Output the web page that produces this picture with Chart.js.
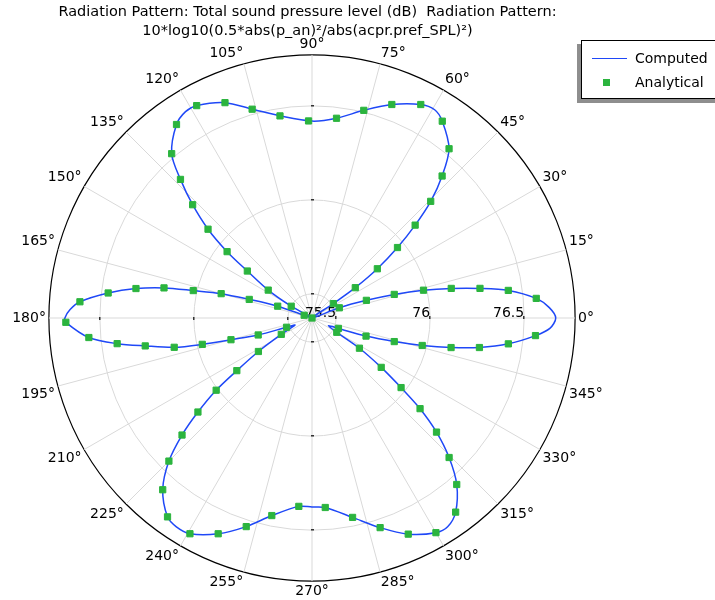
<!DOCTYPE html>
<html>
<head>
<meta charset="utf-8">
<script src="https://cdn.jsdelivr.net/npm/chart.js@4.4.1/dist/chart.umd.min.js"></script>
<style>
  html, body { margin: 0; padding: 0; background: #fff; }
  #wrap { position: relative; width: 715px; height: 600px; overflow: hidden; }
  #legend { position: absolute; left: 581px; top: 40px; width: 150px; height: 57px;
    background: #fff; border: 1px solid #000; box-shadow: -4px 4px 0 #8e8e8e;
    font: 14px "DejaVu Sans", sans-serif; color: #000; }
  #legend .row { position: absolute; left: 0; height: 20px; line-height: 20px; }
  #legend .txt { position: absolute; left: 53px; white-space: nowrap; }
</style>
</head>
<body>
<div id="wrap">
  <canvas id="chart" width="715" height="600"></canvas>
  <div id="legend"></div>
</div>
<script>
// radial axis (dB) and angle ticks (degrees)
const rMin = 75.372;
const rMax = 76.771;
const radialTicks = [75.5, 76, 76.5];
const angleTicks = [0, 15, 30, 45, 60, 75, 90, 105, 120, 135, 150, 165,
  180, 195, 210, 225, 240, 255, 270, 285, 300, 315, 330, 345];

const titleLines = [
  'Radiation Pattern: Total sound pressure level (dB)  Radiation Pattern:',
  '10*log10(0.5*abs(p_an)\u00b2/abs(acpr.pref_SPL)\u00b2)'
];

// Computed curve (angle in deg, level in dB)
const computedAngles = [0, 2.5, 5, 8, 10, 12, 14, 16, 18, 20.5, 27, 34, 35, 37, 39.5, 42, 44.5,
  47.5, 51, 56.5, 59.5, 63, 69.5, 76, 83, 90, 99, 106, 112, 118.5, 121.5, 125, 130.5, 133.5,
  136.5, 139.5, 142, 144, 147.5, 150.5, 155.5, 160.5, 161, 163.5, 165, 167, 168.5, 170.5, 173,
  176, 178, 180, 181, 185, 187.5, 189.5, 192, 193.5, 195, 197.5, 200, 202.5, 208, 212, 215,
  217, 219.5, 222, 225, 229, 234, 237, 240.5, 246.5, 252.5, 258.5, 266, 270, 274, 281.5, 288,
  294, 300, 303, 306.5, 311, 314.5, 317.5, 320, 322, 324.5, 327.5, 330, 335, 338.5, 341.5,
  344, 346, 348, 350, 352.5, 355.5, 357.5];
const computedValues = [76.668, 76.635, 76.569, 76.426, 76.279, 76.129, 75.983, 75.827, 75.676,
  75.527, 75.372, 75.509, 75.653, 75.807, 75.961, 76.110, 76.257, 76.396, 76.530, 76.627,
  76.657, 76.646, 76.584, 76.510, 76.442, 76.419, 76.460, 76.527, 76.607, 76.657, 76.659,
  76.628, 76.521, 76.388, 76.247, 76.099, 75.945, 75.797, 75.648, 75.499, 75.372, 75.416,
  75.565, 75.720, 75.872, 76.020, 76.175, 76.321, 76.464, 76.609, 76.659, 76.686, 76.681,
  76.563, 76.417, 76.271, 76.121, 75.972, 75.818, 75.672, 75.516, 75.470, 75.557, 75.708,
  75.860, 76.010, 76.158, 76.302, 76.448, 76.582, 76.679, 76.696, 76.690, 76.623, 76.535,
  76.444, 76.376, 76.377, 76.382, 76.454, 76.544, 76.630, 76.690, 76.696, 76.656, 76.545,
  76.412, 76.270, 76.122, 75.973, 75.824, 75.671, 75.524, 75.468, 75.523, 75.675, 75.827,
  75.976, 76.128, 76.276, 76.425, 76.564, 76.638];

// Analytical markers
const analyticalAngles = [5, 8, 10, 12, 14, 16, 18, 20.5, 34, 35, 37, 39.5, 42, 44.5, 47.5, 51,
  56.5, 63, 69.5, 76, 83, 91, 99, 106, 112, 118.5, 125, 130.5, 133.5, 136.5, 139.5, 142, 144,
  147.5, 150.5, 155.5, 160.5, 161, 163.5, 165, 167, 168.5, 170.5, 173, 176, 181, 185, 187.5,
  189.5, 192, 193.5, 195, 197.5, 200, 208, 212, 215, 217, 219.5, 222, 225, 229, 234, 240.5,
  246.5, 252.5, 258.5, 266, 274, 281.5, 288, 294, 300, 306.5, 311, 314.5, 317.5, 320, 322,
  324.5, 327.5, 330, 338.5, 341.5, 344, 346, 348, 350, 352.5, 355.5];
const analyticalValues = [76.569, 76.426, 76.279, 76.129, 75.983, 75.827, 75.676, 75.527,
  75.509, 75.653, 75.807, 75.961, 76.110, 76.257, 76.396, 76.530, 76.627, 76.646, 76.584,
  76.510, 76.442, 76.420, 76.460, 76.527, 76.607, 76.657, 76.628, 76.521, 76.388, 76.247,
  76.099, 75.945, 75.797, 75.648, 75.499, 75.372, 75.416, 75.565, 75.720, 75.872, 76.020,
  76.175, 76.321, 76.464, 76.609, 76.681, 76.563, 76.417, 76.271, 76.121, 75.972, 75.818,
  75.672, 75.516, 75.557, 75.708, 75.860, 76.010, 76.158, 76.302, 76.448, 76.582, 76.679,
  76.690, 76.623, 76.535, 76.444, 76.376, 76.382, 76.454, 76.544, 76.630, 76.690, 76.656,
  76.545, 76.412, 76.270, 76.122, 75.973, 75.824, 75.671, 75.524, 75.523, 75.675, 75.827,
  75.976, 76.128, 76.276, 76.425, 76.564];

const blue = '#1f48f7';
const green = '#2bb43e';
const gridGray = '#d9d9d9';

// radar runs clockwise from startAngle; slot i sits at polar angle -i*STEP
const STEP = 0.5;
const N = 360 / STEP;
function slot(theta) {
  return Math.round(((360 - theta) % 360) / STEP) % N;
}
const labels = [];
for (let i = 0; i < N; i++) {
  const th = ((N - i) % N) * STEP;
  labels.push(angleTicks.includes(th) ? th + '\u00b0' : '');
}
function toSlots(angles, values) {
  const out = new Array(N).fill(null);
  angles.forEach((a, k) => { out[slot(a)] = values[k]; });
  return out;
}

const axisMarks = {
  id: 'axisMarks',
  beforeDatasetsDraw(chart) {
    const r = chart.scales.r;
    const ctx = chart.ctx;
    const xc = r.xCenter, yc = r.yCenter;
    ctx.save();
    ctx.font = '14px "DejaVu Sans", sans-serif';
    ctx.textAlign = 'right';
    ctx.textBaseline = 'alphabetic';
    radialTicks.forEach(v => {
      const d = r.getDistanceFromCenterForValue(v);
      ctx.fillStyle = '#333';
      ctx.fillRect(Math.round(xc + d) - 1, yc - 2, 1.5, 3);
      ctx.fillRect(Math.round(xc - d) - 1, yc - 1, 1.5, 3);
      ctx.fillRect(xc - 1, Math.round(yc - d) - 1, 3, 1.5);
      ctx.fillRect(xc - 1, Math.round(yc + d) - 1, 3, 1.5);
      ctx.fillStyle = '#000';
      ctx.fillText(String(v), xc + d, yc - 1);
    });
    ctx.restore();
  }
};

Chart.defaults.font.family = '"DejaVu Sans", sans-serif';

const chart = new Chart(document.getElementById('chart'), {
  type: 'radar',
  data: {
    labels: labels,
    datasets: [{
      label: 'Computed',
      data: toSlots(computedAngles, computedValues),
      borderColor: blue,
      borderWidth: 1.5,
      backgroundColor: 'rgba(0,0,0,0)',
      fill: false,
      pointRadius: 0,
      pointHitRadius: 0,
      spanGaps: true,
      tension: 0.3,
      order: 1
    }, {
      label: 'Analytical',
      data: toSlots(analyticalAngles, analyticalValues),
      showLine: false,
      borderWidth: 0,
      backgroundColor: green,
      pointStyle: 'rect',
      pointRadius: 4.4,
      pointBackgroundColor: green,
      pointBorderColor: green,
      pointBorderWidth: 1,
      order: 0
    }]
  },
  options: {
    responsive: false,
    animation: false,
    layout: { padding: { left: 0, right: 100, top: 0, bottom: 0 } },
    plugins: {
      legend: { display: false },
      tooltip: { enabled: false },
      title: {
        display: true,
        fullSize: false,
        text: titleLines,
        color: '#000',
        font: { size: 14.5, weight: 'normal', lineHeight: 1.31 },
        padding: { top: 2.5, bottom: -4 }
      }
    },
    scales: {
      r: {
        startAngle: 90,
        min: rMin,
        max: rMax,
        afterBuildTicks: scale => {
          scale.ticks = [rMin].concat(radialTicks, [rMax]).map(v => ({ value: v }));
        },
        ticks: { display: false },
        grid: {
          circular: true,
          color: c => (c.tick && c.tick.value === rMax ? '#000' : gridGray),
          lineWidth: c => (c.tick && c.tick.value === rMax ? 1.2 : 1)
        },
        angleLines: {
          color: gridGray,
          lineWidth: c => (c.index % (15 / STEP) === 0 ? 1 : 0)
        },
        pointLabels: {
          display: true,
          padding: 3,
          color: '#000',
          font: { size: 14, lineHeight: 1.1 }
        }
      }
    }
  },
  plugins: [axisMarks]
});

// legend box
const legend = document.getElementById('legend');
chart.data.datasets.forEach((ds, k) => {
  const row = document.createElement('div');
  row.className = 'row';
  row.style.top = (7 + k * 24) + 'px';
  row.style.width = '150px';
  const mark = document.createElement('div');
  mark.style.position = 'absolute';
  if (ds.showLine === false) {
    mark.style.left = '21px'; mark.style.top = '7px';
    mark.style.width = '7px'; mark.style.height = '7px';
    mark.style.background = ds.pointBackgroundColor;
  } else {
    mark.style.left = '10px'; mark.style.top = '10px';
    mark.style.width = '35px'; mark.style.height = '1.3px';
    mark.style.background = ds.borderColor;
  }
  const txt = document.createElement('span');
  txt.className = 'txt';
  txt.textContent = ds.label;
  row.appendChild(mark);
  row.appendChild(txt);
  legend.appendChild(row);
});
</script>
</body>
</html>
